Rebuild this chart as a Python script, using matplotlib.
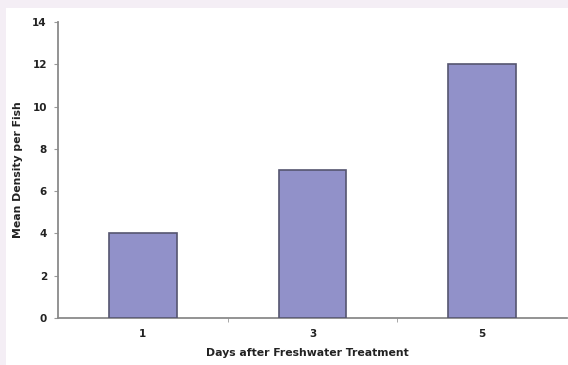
import matplotlib
matplotlib.use("Agg")
import matplotlib.pyplot as plt
from matplotlib.patches import Rectangle

categories = ["1", "3", "5"]
values = [4, 7, 12]
yticks = [0, 2, 4, 6, 8, 10, 12, 14]

W, H = 568, 365
fig = plt.figure(figsize=(W / 100, H / 100), dpi=100)
fig.patch.set_facecolor("#F4EEF5")
fig.add_artist(Rectangle((6 / W, 0), 1 - 6 / W, 1 - 8 / H, transform=fig.transFigure,
                         facecolor="white", edgecolor="none", zorder=-10))

ax = fig.add_axes([58 / W, 1 - 318 / H, (567 - 58) / W, (318 - 22) / H])
ax.set_zorder(5)
ax.set_facecolor("none")
x = list(range(len(categories)))
ax.bar(x, values, width=0.4, color="#9191C9", edgecolor="#555570", linewidth=1.2, zorder=3)

fs = 7.5
ax.set_xlim(-0.5, len(categories) - 0.5)
ax.set_ylim(0, 14)
ax.set_yticks(yticks)
ax.set_yticklabels([str(t) for t in yticks], fontsize=fs, fontweight="bold", color="#222222")
ax.set_xticks(x)
ax.set_xticklabels(categories, fontsize=fs, fontweight="bold", color="#222222")
ax.tick_params(axis="x", length=0, pad=8)
ax.set_xticks([0.5, 1.5], minor=True)
ax.tick_params(axis="x", which="minor", length=3, color="#999999", direction="out")
ax.tick_params(axis="y", length=3, color="#999999", direction="out", pad=5)

for s in ["top", "right"]:
    ax.spines[s].set_visible(False)
for s in ["left", "bottom"]:
    ax.spines[s].set_color("#8a8a8a")
    ax.spines[s].set_linewidth(1.3)

ax.set_ylabel("Mean Density per Fish", fontsize=7.8, fontweight="bold", color="#222222")
ax.set_xlabel("Days after Freshwater Treatment", fontsize=7.8, fontweight="bold", color="#222222")
ax.yaxis.set_label_coords((23 - 58) / 509, 0.5)
ax.xaxis.set_label_coords(0.49, (318 - 348) / 296)

fig.savefig("out.png", dpi=100)
